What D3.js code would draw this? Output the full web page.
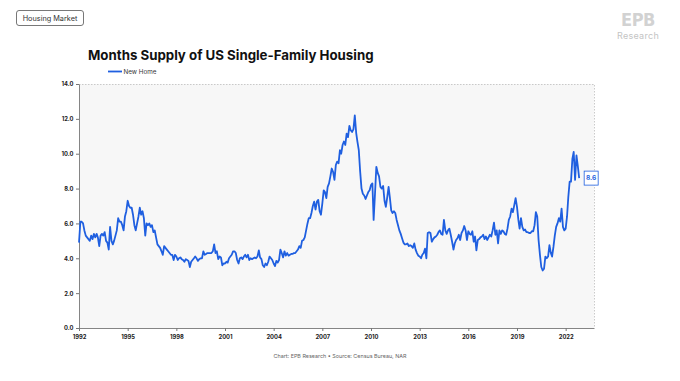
<!DOCTYPE html>
<html><head><meta charset="utf-8">
<script src="https://cdn.jsdelivr.net/npm/d3@7"></script>
<style>body{margin:0;background:#fff} svg{display:block}</style>
</head><body>
<script>
// ---- data (monthly, starting Jan 1992) ----
const seriesName = "New Home";
const startYear = 1992;
const newHomeSupply = [
  // 1992
  4.9, 6.1, 6.1, 6.0, 5.6, 5.3, 5.2, 5.1, 5.0, 5.3, 5.1, 5.4,
  // 1993
  5.2, 5.4, 5.2, 4.7, 5.3, 5.4, 5.3, 5.5, 5.0, 4.9, 4.5, 5.8,
  // 1994
  5.0, 4.8, 5.0, 5.3, 5.6, 6.3, 6.1, 6.1, 5.9, 5.6, 6.4, 6.7,
  // 1995
  7.3, 7.0, 6.9, 6.9, 6.5, 5.9, 5.6, 6.0, 6.4, 6.9, 6.5, 6.7,
  // 1996
  6.3, 5.3, 6.0, 5.9, 6.0, 5.8, 5.9, 5.5, 5.6, 5.2, 4.8, 4.7,
  // 1997
  4.6, 4.4, 4.2, 4.7, 4.6, 4.5, 4.4, 4.3, 4.2, 4.2, 3.9, 4.2,
  // 1998
  4.1, 3.9, 4.0, 4.05, 3.95, 3.9, 3.8, 3.95, 3.9, 3.85, 3.5, 3.8,
  // 1999
  3.9, 4.0, 4.1, 4.0, 3.85, 3.95, 4.0, 4.0, 4.4, 4.2, 4.25, 4.3,
  // 2000
  4.3, 4.3, 4.3, 4.4, 4.8, 4.3, 4.4, 3.95, 4.1, 4.05, 3.6, 3.7,
  // 2001
  3.7, 3.8, 3.75, 4.0, 4.1, 4.2, 4.4, 4.4, 4.3, 3.9, 3.7, 4.0,
  // 2002
  4.05, 3.95, 4.1, 4.2, 4.05, 4.2, 3.9, 4.0, 3.95, 4.0, 4.05, 4.0,
  // 2003
  4.1, 4.45, 4.05, 3.95, 3.6, 3.5, 3.7, 3.6, 3.8, 4.1, 4.0, 3.9,
  // 2004
  3.7, 3.55, 3.85, 3.75, 3.9, 4.5, 4.3, 4.05, 4.4, 4.15, 4.3, 4.15,
  // 2005
  4.2, 4.25, 4.25, 4.3, 4.3, 4.4, 4.5, 4.7, 4.6, 5.0, 5.05, 5.2,
  // 2006
  5.6, 6.0, 6.3, 6.3, 6.6, 7.0, 7.25, 6.8, 7.25, 7.35, 6.7, 6.5,
  // 2007
  7.15, 7.9, 7.8, 7.45, 8.1, 8.3, 8.7, 9.15, 8.95, 8.5, 9.35, 9.55,
  // 2008
  9.45, 10.2, 10.0, 10.5, 10.7, 10.5, 11.15, 10.95, 11.6, 11.35, 11.25, 11.4,
  // 2009
  12.2, 11.2, 10.7, 10.2, 9.0, 8.0, 7.7, 7.6, 7.4, 7.6, 7.8, 7.9,
  // 2010
  8.2, 8.3, 6.2, 7.7, 9.25, 8.9, 8.7, 8.1, 8.0, 8.15, 7.3, 6.95,
  // 2011
  7.5, 8.1, 7.5, 6.75, 6.6, 6.7, 6.6, 6.2, 5.9, 5.6, 5.4, 5.15,
  // 2012
  4.9, 4.8, 4.8, 4.85, 4.7, 4.75, 4.7, 4.6, 4.85, 4.5, 4.3, 4.15,
  // 2013
  4.1, 4.0, 4.2, 4.3, 4.55, 4.0, 5.45, 5.5, 5.45, 4.95, 5.1, 5.2,
  // 2014
  5.25, 5.35, 5.5, 5.6, 5.4, 5.35, 6.2, 5.6, 5.4, 5.6, 5.7, 5.35,
  // 2015
  4.95, 4.5, 4.85, 5.05, 5.15, 5.35, 5.05, 5.45, 5.6, 5.85, 5.6, 5.05,
  // 2016
  5.55, 5.4, 5.35, 5.55, 4.95, 5.25, 4.45, 5.05, 5.1, 5.2, 5.25, 5.35,
  // 2017
  5.1, 5.25, 5.05, 5.2, 5.35, 5.25, 5.6, 6.05, 5.35, 5.6, 4.85, 5.6,
  // 2018
  5.4, 5.6, 5.55, 5.4, 5.35, 5.7, 6.2, 6.4, 6.85, 6.65, 7.05, 7.45,
  // 2019
  6.95, 6.2, 5.7, 6.3, 5.8, 5.6, 5.65, 5.5, 5.5, 5.45, 5.45, 5.55,
  // 2020
  5.55, 5.9, 6.65, 6.4, 5.05, 4.2, 3.5, 3.3, 3.4, 4.1, 4.0, 4.1,
  // 2021
  4.75, 4.3, 4.1, 4.65, 5.3, 5.8, 6.0, 6.3, 6.1, 6.85, 5.8, 5.6,
  // 2022
  5.7, 6.4, 7.5, 8.4, 8.4, 9.7, 10.1, 8.5, 9.9, 9.3, 8.6
];
const lastLabel = "8.6";
const yTickValues = [0, 2, 4, 6, 8, 10, 12, 14];
const xTickYears = [1992, 1995, 1998, 2001, 2004, 2007, 2010, 2013, 2016, 2019, 2022];
const domainStart = new Date(1992, 0, 1);
const domainEnd = new Date(2023, 9, 1);

const W = 680, H = 381;
const m = {left: 79, right: 594, top: 84, bottom: 328};
const blue = "#1f5fe0";

const svg = d3.select("body").append("svg").attr("width", W).attr("height", H)
  .style("font-family", "Inter, 'Noto Sans', sans-serif");

// header tag
svg.append("rect").attr("x", 16.5).attr("y", 10.5).attr("width", 67).attr("height", 15)
  .attr("rx", 2.5).attr("fill", "#fff").attr("stroke", "#555").attr("stroke-width", 0.8);
svg.append("text").attr("x", 50).attr("y", 20.6).attr("text-anchor", "middle")
  .attr("font-size", 7.3).attr("fill", "#333").text("Housing Market");

// logo
svg.append("text").attr("x", 638).attr("y", 25.5).attr("text-anchor", "middle")
  .attr("font-size", 18).attr("font-weight", 900).attr("letter-spacing", -0.5)
  .attr("font-family", "'DejaVu Sans Condensed', 'DejaVu Sans', sans-serif")
  .attr("fill", "#d2d2d2").text("EPB");
svg.append("text").attr("x", 638).attr("y", 39).attr("text-anchor", "middle")
  .attr("font-size", 9).attr("fill", "#c4c4c4").attr("letter-spacing", 0.3).text("Research");

// title
const title = svg.append("text").attr("x", 88).attr("y", 59.5)
  .attr("font-size", 15.5).attr("font-weight", 700).attr("fill", "#111")
  .text("Months Supply of US Single-Family Housing");
const tl = title.node().getComputedTextLength();
title.attr("font-size", 15.5 * 286 / tl);

// legend
svg.append("line").attr("x1", 108).attr("x2", 122).attr("y1", 71.5).attr("y2", 71.5)
  .attr("stroke", blue).attr("stroke-width", 1.8);
svg.append("text").attr("x", 123.5).attr("y", 73.8).attr("font-size", 6.3)
  .attr("fill", "#333").text(seriesName);

// scales
const dates = newHomeSupply.map((_, i) => new Date(startYear, i, 1));
const x = d3.scaleTime().domain([domainStart, domainEnd]).range([m.left, m.right]);
const y = d3.scaleLinear().domain([0, 14]).range([m.bottom, m.top]);

// plot background
svg.append("rect").attr("x", m.left).attr("y", m.top).attr("width", m.right - m.left)
  .attr("height", m.bottom - m.top).attr("fill", "#f7f7f7");
svg.append("path").attr("d", `M${m.left},${m.top + 0.5}H${m.right + 0.5}V${m.bottom}`)
  .attr("fill", "none").attr("stroke", "#bdbdbd").attr("stroke-width", 0.8)
  .attr("stroke-dasharray", "1.5,1.5");

// axes
const yAxis = svg.append("g").attr("transform", `translate(${m.left},0)`)
  .call(d3.axisLeft(y).tickValues(yTickValues).tickFormat(d3.format(".1f"))
    .tickSize(3).tickSizeOuter(0));
yAxis.select(".domain").attr("stroke", "#777").attr("stroke-width", 0.9);
yAxis.selectAll(".tick line").attr("stroke", "#777");
yAxis.selectAll(".tick text").attr("font-size", 5.8).attr("font-weight", 700)
  .attr("fill", "#222").attr("font-family", "Inter, sans-serif").attr("x", -5.5);

const xAxis = svg.append("g").attr("transform", `translate(0,${m.bottom})`)
  .call(d3.axisBottom(x).tickValues(xTickYears.map(yv => new Date(yv, 0, 1)))
    .tickFormat(d3.timeFormat("%Y")).tickSize(3).tickSizeOuter(0));
xAxis.select(".domain").attr("stroke", "#777").attr("stroke-width", 0.9);
xAxis.selectAll(".tick line").attr("stroke", "#777");
xAxis.selectAll(".tick text").attr("font-size", 5.8).attr("font-weight", 700)
  .attr("fill", "#222").attr("font-family", "Inter, sans-serif").attr("y", 7);

// line
svg.append("path").datum(newHomeSupply)
  .attr("fill", "none").attr("stroke", blue).attr("stroke-width", 1.8)
  .attr("stroke-linejoin", "round")
  .attr("d", d3.line().x((d, i) => x(dates[i])).y(d => y(d)));

// end label
const lastV = newHomeSupply[newHomeSupply.length - 1];
const lx = x(dates[dates.length - 1]) + 5, ly = y(lastV);
svg.append("rect").attr("x", lx).attr("y", ly - 7).attr("width", 14).attr("height", 14)
  .attr("fill", "#fff").attr("stroke", blue).attr("stroke-width", 0.8);
svg.append("text").attr("x", lx + 7).attr("y", ly + 2.3).attr("text-anchor", "middle")
  .attr("font-size", 6.5).attr("font-weight", 700).attr("fill", blue).text(lastLabel);

// footer
svg.append("text").attr("x", 340).attr("y", 358).attr("text-anchor", "middle")
  .attr("font-size", 5.4).attr("fill", "#666")
  .text("Chart: EPB Research  •  Source: Census Bureau, NAR");
</script>
</body></html>
